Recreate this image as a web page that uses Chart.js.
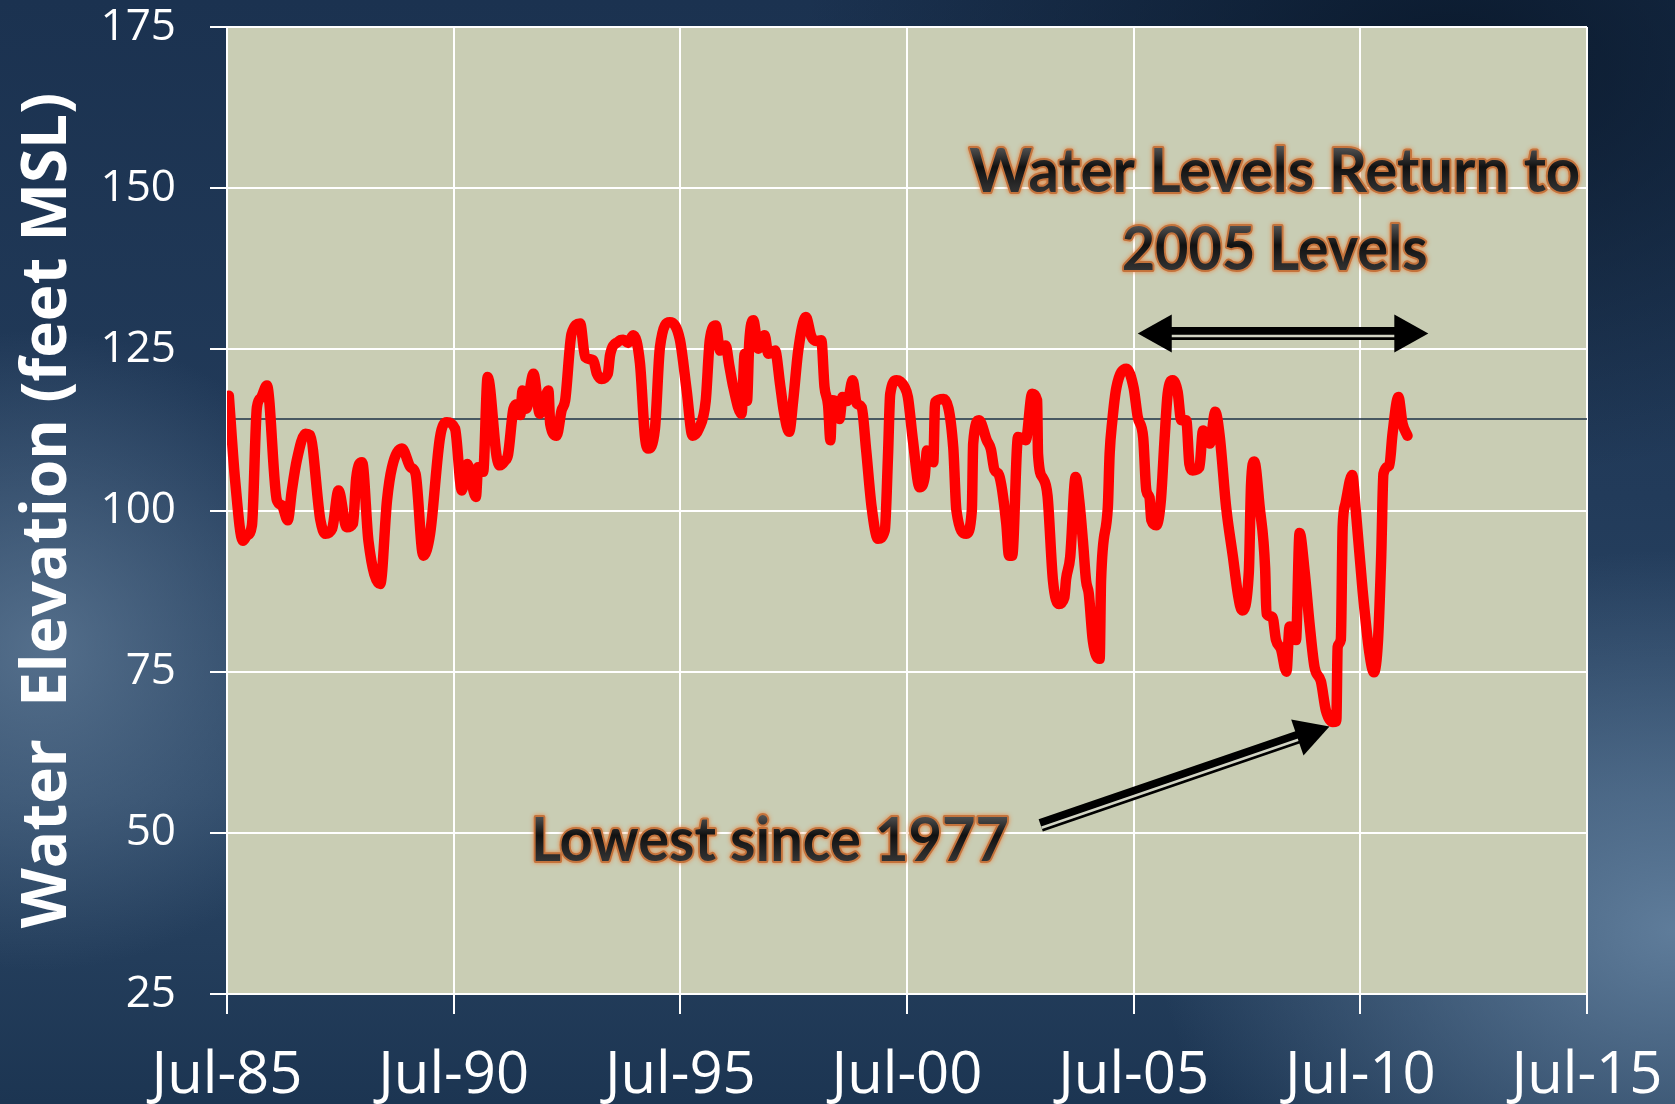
<!DOCTYPE html>
<html>
<head>
<meta charset="utf-8">
<script src="https://cdn.jsdelivr.net/npm/chart.js@4.4.1/dist/chart.umd.min.js"></script>
<style>
html, body { margin: 0; padding: 0; }
body {
  width: 1675px;
  height: 1104px;
  overflow: hidden;
  background:
    radial-gradient(ellipse 330px 320px at 40px 650px, rgba(95,122,150,0.8), rgba(95,122,150,0)),
    radial-gradient(ellipse 520px 380px at 1675px 930px, rgba(105,135,165,0.85), rgba(105,135,165,0)),
    radial-gradient(ellipse 650px 420px at 1450px 60px, rgba(8,22,40,0.85), rgba(8,22,40,0)),
    linear-gradient(180deg, #1b3250 0%, #223b5a 45%, #2b4665 72%, #1c3552 100%);
}
</style>
</head>
<body>
<canvas id="myChart" width="1675" height="1104"></canvas>
<script>
// lake level readings, decimal year / feet MSL
const dates = [
  1985.54, 1985.68, 1985.85, 1985.94, 1986.05, 1986.16, 1986.25, 1986.38, 1986.6, 1986.71,
  1986.84, 1986.93, 1987.04, 1987.23, 1987.33, 1987.56, 1987.67, 1987.82, 1987.96, 1988.14,
  1988.28, 1988.35, 1988.48, 1988.62, 1988.88, 1989.03, 1989.14, 1989.36, 1989.55, 1989.66,
  1989.83, 1989.98, 1990.2, 1990.35, 1990.53, 1990.68, 1990.8, 1990.99, 1991.04, 1991.15,
  1991.25, 1991.45, 1991.52, 1991.63, 1991.7, 1991.82, 1991.9, 1991.97, 1992.02, 1992.1,
  1992.26, 1992.4, 1992.59, 1992.63, 1992.77, 1992.88, 1992.96, 1993.1, 1993.29, 1993.4,
  1993.58, 1993.66, 1993.76, 1993.9, 1993.95, 1994.13, 1994.24, 1994.35, 1994.46, 1994.61,
  1994.72, 1994.79, 1994.94, 1995.05, 1995.27, 1995.49, 1995.64, 1995.77, 1995.91, 1996.06,
  1996.15, 1996.28, 1996.38, 1996.5, 1996.58, 1996.67, 1996.85, 1996.92, 1996.97, 1997.02,
  1997.11, 1997.22, 1997.36, 1997.44, 1997.59, 1997.7, 1997.78, 1997.9, 1997.99, 1998.1,
  1998.27, 1998.39, 1998.5, 1998.61, 1998.68, 1998.76, 1998.81, 1998.85, 1998.95, 1999.01,
  1999.08, 1999.19, 1999.3, 1999.39, 1999.5, 1999.6, 1999.72, 1999.86, 2000.01, 2000.08,
  2000.13, 2000.27, 2000.45, 2000.52, 2000.63, 2000.78, 2000.89, 2000.94, 2001.02, 2001.08,
  2001.12, 2001.31, 2001.52, 2001.59, 2001.81, 2001.93, 2001.96, 2002.09, 2002.26, 2002.35,
  2002.43, 2002.53, 2002.69, 2002.75, 2002.82, 2002.95, 2003.12, 2003.26, 2003.37, 2003.39,
  2003.5, 2003.6, 2003.72, 2003.85, 2003.97, 2004.01, 2004.1, 2004.22, 2004.3, 2004.38,
  2004.45, 2004.51, 2004.6, 2004.75, 2004.78, 2004.93, 2004.97, 2005.03, 2005.12, 2005.34,
  2005.5, 2005.59, 2005.71, 2005.78, 2005.85, 2005.89, 2006.0, 2006.1, 2006.18, 2006.25,
  2006.36, 2006.47, 2006.55, 2006.66, 2006.73, 2006.8, 2006.95, 2007.03, 2007.18, 2007.3,
  2007.4, 2007.54, 2007.69, 2007.8, 2007.89, 2008.04, 2008.09, 2008.16, 2008.28, 2008.4,
  2008.43, 2008.56, 2008.64, 2008.75, 2008.87, 2008.94, 2009.08, 2009.16, 2009.27, 2009.38,
  2009.49, 2009.63, 2009.74, 2009.89, 2009.97, 2010.0, 2010.07, 2010.11, 2010.17, 2010.32,
  2010.4, 2010.55, 2010.7, 2010.8, 2010.89, 2010.96, 2011.01, 2011.14, 2011.21, 2011.34,
  2011.43, 2011.54
]
const levels = [
  117.8, 104.6, 95.3, 96.1, 97.7, 116.0, 117.5, 119.4, 101.6, 100.8,
  98.5, 103.1, 107.8, 111.9, 111.7, 98.5, 96.4, 97.2, 103.1, 97.4,
  98.0, 105.0, 107.5, 95.3, 88.6, 101.6, 106.7, 109.6, 106.7, 105.7,
  93.0, 96.4, 111.4, 113.7, 112.7, 103.1, 107.2, 102.1, 106.7, 106.0,
  120.7, 108.3, 107.0, 107.7, 108.7, 115.8, 116.5, 114.8, 118.6, 115.8,
  121.2, 115.0, 118.6, 113.4, 111.6, 115.5, 117.1, 127.4, 129.0, 123.8,
  123.3, 121.2, 120.4, 121.2, 124.1, 126.2, 126.5, 126.0, 127.2, 122.8,
  111.4, 109.6, 112.7, 125.3, 129.2, 126.5, 118.6, 111.6, 112.7, 117.0,
  126.4, 128.7, 124.8, 125.6, 122.5, 119.1, 115.0, 124.3, 117.0, 126.0,
  129.5, 125.1, 127.2, 124.3, 124.8, 119.6, 115.5, 112.2, 117.1, 124.8,
  130.0, 127.0, 126.3, 126.4, 119.2, 116.3, 110.9, 117.1, 116.8, 114.2,
  117.6, 117.0, 120.2, 116.6, 116.0, 109.3, 100.5, 95.6, 96.9, 108.3,
  118.1, 120.2, 119.1, 117.6, 110.9, 103.6, 105.2, 109.3, 108.5, 107.5,
  116.8, 117.3, 109.8, 100.0, 96.4, 100.0, 110.4, 114.0, 110.9, 109.5,
  106.3, 105.5, 98.0, 93.0, 93.0, 111.4, 110.9, 118.1, 117.1, 108.8,
  105.0, 102.3, 89.1, 85.5, 86.5, 89.4, 92.8, 105.2, 101.5, 95.3,
  89.1, 87.1, 79.8, 77.0, 89.1, 100.5, 108.8, 114.0, 119.1, 122.0,
  119.0, 114.5, 111.3, 103.1, 102.0, 98.5, 97.7, 101.6, 110.9, 118.1,
  120.2, 118.4, 114.0, 114.0, 107.2, 106.2, 106.7, 112.4, 110.4, 115.3,
  111.4, 100.5, 92.8, 87.0, 84.5, 90.4, 104.1, 107.6, 100.5, 91.0,
  84.0, 83.5, 79.9, 78.5, 75.0, 82.0, 79.9, 96.5, 90.6, 82.4,
  75.7, 73.5, 69.0, 67.2, 67.3, 78.8, 80.0, 97.4, 101.0, 105.5,
  100.0, 87.6, 77.9, 74.9, 79.9, 92.8, 105.7, 107.0, 111.9, 117.6,
  113.5, 111.6
]
const referenceLevel = 114.2
const tickYears = [1985.5, 1990.5, 1995.5, 2000.5, 2005.5, 2010.5, 2015.5]
const tickLabels = ['Jul-85', 'Jul-90', 'Jul-95', 'Jul-00', 'Jul-05', 'Jul-10', 'Jul-15']
const yTicks = [25, 50, 75, 100, 125, 150, 175]

const captions = [
    { text: 'Water Levels Return to', x: 2008.61, y: 149.35, width: 611 },
    { text: '2005 Levels', x: 2008.61, y: 137.25, width: 306 },
    { text: 'Lowest since 1977', x: 1997.48, y: 45.7, width: 478 },
]
const arrows = [
    { x1: 2005.59, y1: 127.45, x2: 2012.0, y2: 127.45, both: true },
    { x1: 2003.45, y1: 51.15, x2: 2009.82, y2: 66.5, both: false },
]

const ctx = document.getElementById('myChart')

const drawCaption = (c, text, cx, baseY, width) => {
    c.save()
    c.font = 'bold 62px Lato'
    c.textAlign = 'center'
    c.textBaseline = 'alphabetic'
    c.lineJoin = 'round'
    c.shadowColor = 'rgba(235,125,55,0.9)'
    c.shadowBlur = 4
    c.strokeStyle = '#c4733c'
    c.lineWidth = 4
    c.strokeText(text, cx, baseY, width)
    c.shadowColor = 'transparent'
    const g = c.createLinearGradient(0, baseY - 46, 0, baseY)
    g.addColorStop(0, '#555')
    g.addColorStop(0.45, '#111')
    g.addColorStop(1, '#333')
    c.fillStyle = g
    c.fillText(text, cx, baseY, width)
    c.restore()
}

const drawArrow = (c, ax, ay, bx, by, both) => {
    const len = Math.hypot(bx - ax, by - ay)
    const ux = (bx - ax) / len, uy = (by - ay) / len
    const nx = -uy, ny = ux
    const headLen = 34, headHalf = 19
    const sx = both ? ax + ux * (headLen - 4) : ax
    const sy = both ? ay + uy * (headLen - 4) : ay
    const ex = bx - ux * (headLen - 4), ey = by - uy * (headLen - 4)
    c.save()
    c.strokeStyle = '#000'
    c.lineWidth = 13
    c.beginPath()
    c.moveTo(sx, sy)
    c.lineTo(ex, ey)
    c.stroke()
    c.strokeStyle = '#d2d4c4'
    c.lineWidth = 2.5
    c.beginPath()
    c.moveTo(sx + nx * 2.5, sy + ny * 2.5)
    c.lineTo(ex + nx * 2.5, ey + ny * 2.5)
    c.stroke()
    c.fillStyle = '#000'
    const head = (tx, ty, dx, dy) => {
        c.beginPath()
        c.moveTo(tx, ty)
        c.lineTo(tx - dx * headLen + nx * headHalf, ty - dy * headLen + ny * headHalf)
        c.lineTo(tx - dx * headLen - nx * headHalf, ty - dy * headLen - ny * headHalf)
        c.closePath()
        c.fill()
    }
    head(bx, by, ux, uy)
    if (both) head(ax, ay, -ux, -uy)
    c.restore()
}

const plotBackground = {
    id: 'plotBackground',
    beforeDraw(chart) {
        const { ctx: c, chartArea: a } = chart
        c.save()
        c.fillStyle = '#c9cdb4'
        c.fillRect(a.left, a.top, a.right - a.left, a.bottom - a.top)
        c.restore()
    }
}

const notes = {
    id: 'notes',
    afterDatasetsDraw(chart) {
        const c = chart.ctx
        const xs = chart.scales.x, ys = chart.scales.y
        arrows.forEach((a) => {
            drawArrow(c, xs.getPixelForValue(a.x1), ys.getPixelForValue(a.y1),
                xs.getPixelForValue(a.x2), ys.getPixelForValue(a.y2), a.both)
        })
        captions.forEach((t) => {
            drawCaption(c, t.text, xs.getPixelForValue(t.x), ys.getPixelForValue(t.y), t.width)
        })
    }
}

const points = dates.map((d, i) => ({ x: d, y: levels[i] }))
const refPoints = [
    { x: tickYears[0], y: referenceLevel },
    { x: tickYears[tickYears.length - 1], y: referenceLevel },
]

const myChart = new Chart(ctx, {
    type: 'line',
    data: {
        datasets: [
            {
                label: 'Water Elevation',
                data: points,
                borderColor: '#ff0000',
                borderWidth: 10.5,
                pointRadius: 0,
                cubicInterpolationMode: 'monotone',
                borderJoinStyle: 'round',
                borderCapStyle: 'round',
                order: 1,
            },
            {
                label: 'Reference',
                data: refPoints,
                borderColor: '#1c3146',
                borderWidth: 1.5,
                pointRadius: 0,
                order: 2,
            },
        ],
    },
    options: {
        responsive: false,
        animation: false,
        layout: { padding: { top: 27, right: 88, left: 0, bottom: 0 } },
        plugins: {
            legend: { display: false },
            tooltip: { enabled: false },
        },
        scales: {
            x: {
                type: 'linear',
                min: tickYears[0],
                max: tickYears[tickYears.length - 1],
                afterBuildTicks: (scale) => {
                    scale.ticks = tickYears.map((v) => ({ value: v }))
                },
                afterFit: (scale) => {
                    scale.height = 110
                    scale.paddingLeft = 0
                    scale.paddingRight = 0
                },
                ticks: {
                    autoSkip: false,
                    maxRotation: 0,
                    padding: 28,
                    color: '#ffffff',
                    font: { family: 'Open Sans', size: 58 },
                    callback: (value, index) => tickLabels[index],
                },
                grid: { color: '#ffffff', lineWidth: 2, tickLength: 20 },
                border: { color: '#ffffff', width: 2 },
            },
            y: {
                min: yTicks[0],
                max: yTicks[yTicks.length - 1],
                afterBuildTicks: (scale) => {
                    scale.ticks = yTicks.map((v) => ({ value: v }))
                },
                afterFit: (scale) => {
                    scale.width = 227
                    scale.paddingTop = 0
                    scale.paddingBottom = 0
                },
                ticks: {
                    padding: 34,
                    color: '#ffffff',
                    font: { family: 'Open Sans', size: 44 },
                },
                grid: { color: '#ffffff', lineWidth: 2, tickLength: 17 },
                border: { color: '#ffffff', width: 2 },
                title: {
                    display: true,
                    text: 'Water  Elevation (feet MSL)',
                    color: '#ffffff',
                    font: { family: 'Open Sans', size: 62, weight: 'bold' },
                    padding: { top: 11, bottom: 0 },
                },
            },
        },
    },
    plugins: [plotBackground, notes],
})
</script>
</body>
</html>
